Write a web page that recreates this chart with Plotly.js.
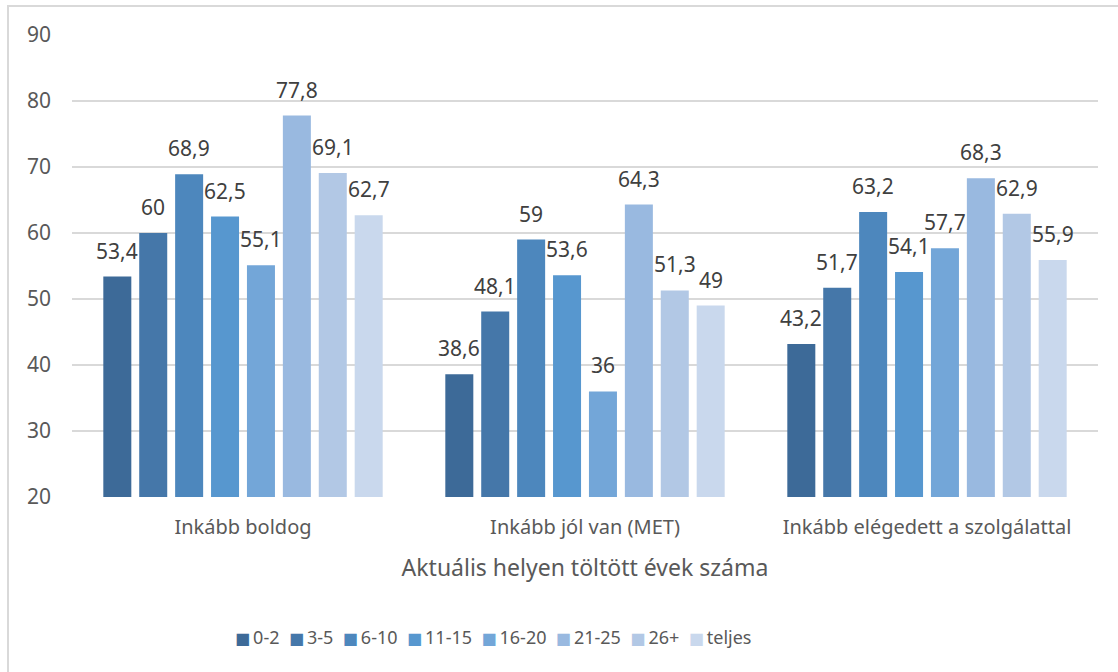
<!DOCTYPE html>
<html>
<head>
<meta charset="utf-8">
<script src="https://cdn.plot.ly/plotly-3.0.1.min.js"></script>
<style>
  html, body { margin: 0; padding: 0; background: #ffffff; overflow: hidden; }
  #chart { width: 1118px; height: 672px; position: absolute; left: 0; top: 0; }
  #frame { position: absolute; left: 7px; top: 5px; width: 1300px; height: 900px;
           border: 2px solid #d9d9d9; pointer-events: none; }
</style>
</head>
<body>
<div id="chart"></div>
<div id="frame"></div>
<script>
// Survey share (%) by years spent at the current place of service
const categories = ['Inkább boldog', 'Inkább jól van (MET)', 'Inkább elégedett a szolgálattal'];

const seriesNames = ['0-2', '3-5', '6-10', '11-15', '16-20', '21-25', '26+', 'teljes'];

const v0_2    = [53.4, 38.6, 43.2];
const v3_5    = [60,   48.1, 51.7];
const v6_10   = [68.9, 59,   63.2];
const v11_15  = [62.5, 53.6, 54.1];
const v16_20  = [55.1, 36,   57.7];
const v21_25  = [77.8, 64.3, 68.3];
const v26plus = [69.1, 51.3, 62.9];
const vTeljes = [62.7, 49,   55.9];

const seriesValues = [v0_2, v3_5, v6_10, v11_15, v16_20, v21_25, v26plus, vTeljes];

const colors = ['#3D6A98', '#4577A9', '#4D87BD', '#5797CF', '#73A6D8', '#99B9E0', '#B2C8E5', '#C9D8ED'];

const yTicks = [20, 30, 40, 50, 60, 70, 80, 90];

const FONT = 'Noto Sans, DejaVu Sans, sans-serif';
const BARGAP = 0.16;
const GROUPGAP = 0.22;

// Decimal comma, as in the Hungarian locale
const fmt = v => String(v).replace('.', ',');

const traces = seriesNames.map((name, i) => ({
  type: 'bar',
  name: name,
  x: categories,
  y: seriesValues[i],
  marker: { color: colors[i] },
  hoverinfo: 'x+y+name'
}));

// Value labels sit above each bar, placed on the category axis by slot index
const nSeries = seriesNames.length;
const slot = (1 - BARGAP) / nSeries;
const annotations = [];
seriesValues.forEach((vals, i) => {
  vals.forEach((v, c) => {
    annotations.push({
      x: c - (1 - BARGAP) / 2 + slot * (i + 0.5),
      y: v,
      xref: 'x', yref: 'y',
      text: fmt(v),
      showarrow: false,
      xanchor: 'center', yanchor: 'bottom',
      yshift: 10,
      font: { family: FONT, size: 21, color: '#404040' }
    });
  });
});

// Compact one-line legend built from the series names and colours
const legendText = seriesNames.map((name, i) =>
  '<span style="color:' + colors[i] + ';font-size:16px;font-family:DejaVu Sans">\u25A0</span>\u2009' + name
).join('\u00a0\u00a0');

annotations.push({
  x: 0.41, y: -0.303,
  xref: 'paper', yref: 'paper',
  xanchor: 'center', yanchor: 'middle',
  text: legendText,
  showarrow: false,
  font: { family: FONT, size: 18, color: '#595959' }
});

const layout = {
  width: 1118,
  height: 672,
  margin: { l: 72, r: 20, t: 35, b: 175 },
  paper_bgcolor: '#ffffff',
  plot_bgcolor: '#ffffff',
  barmode: 'group',
  bargap: BARGAP,
  bargroupgap: GROUPGAP,
  showlegend: false,
  font: { family: FONT, color: '#595959' },
  xaxis: {
    type: 'category',
    showgrid: false,
    showline: false,
    zeroline: false,
    ticks: '',
    ticklabelstandoff: 16,
    tickfont: { family: FONT, size: 20, color: '#595959' },
    title: {
      text: 'Aktuális helyen töltött évek száma',
      font: { family: FONT, size: 23, color: '#595959' },
      standoff: 20
    },
    automargin: false
  },
  yaxis: {
    range: [20, 90],
    tickvals: yTicks,
    ticktext: yTicks.map(String),
    showgrid: true,
    gridcolor: '#d9d9d9',
    gridwidth: 1.5,
    showline: false,
    zeroline: false,
    ticks: '',
    ticklabelstandoff: 20,
    tickfont: { family: FONT, size: 21, color: '#595959' },
    automargin: false
  },
  annotations: annotations
};

Plotly.newPlot('chart', traces, layout, { displayModeBar: false, staticPlot: true });
</script>
</body>
</html>
